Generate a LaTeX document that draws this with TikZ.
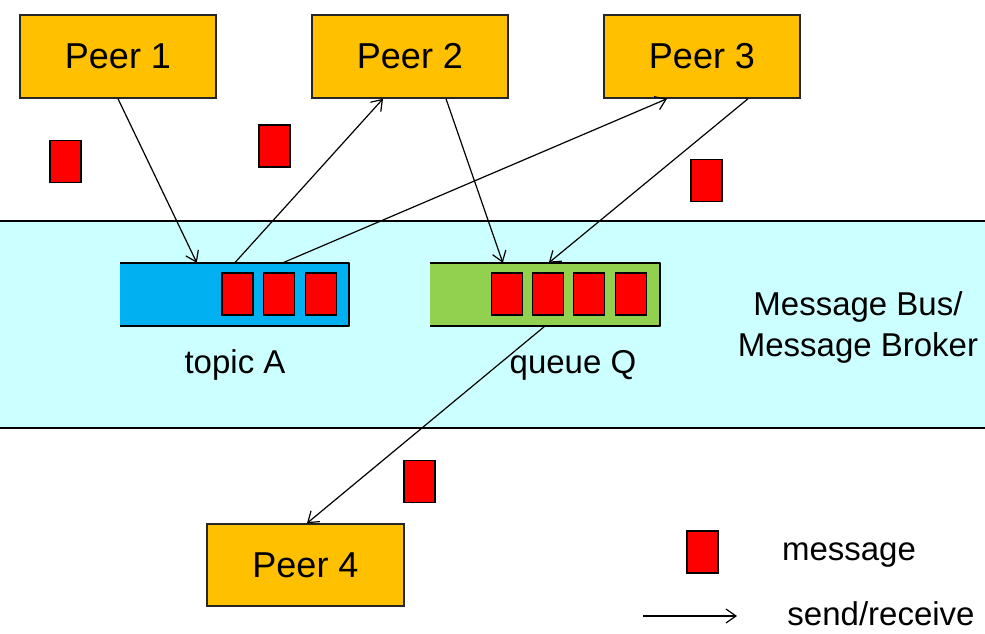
\documentclass[tikz,border=0pt]{standalone}
\usepackage{fontspec}
\setmainfont{Liberation Sans}
\usetikzlibrary{arrows.meta}
\definecolor{peerc}{HTML}{FFC000}
\definecolor{busc}{HTML}{CCFFFF}
\definecolor{topicc}{HTML}{00B0F0}
\definecolor{queuec}{HTML}{92D050}
\definecolor{msgc}{HTML}{FF0000}
\begin{document}
\begin{tikzpicture}[x=1pt,y=-1pt,
  peerbox/.style={draw=black!85, line width=1.5pt, fill=peerc, minimum width=196pt, minimum height=83pt, inner sep=0pt, font=\fontsize{36}{40}\selectfont},
  msg/.style={draw=black, line width=1.5pt, fill=msgc, minimum width=31pt, minimum height=42pt, inner sep=0pt},
  pipe/.style={minimum width=229pt, minimum height=63pt, inner sep=0pt},
  pipeedge/.style={line width=1.5pt, line join=round},
  lbl/.style={font=\fontsize{33}{41}\selectfont, inner sep=0pt},
  arr/.style={line width=1.2pt, -{Straight Barb[length=10pt,width=14pt,line width=1.2pt]}}
]
\useasboundingbox (0,0) rectangle (985,633);
% bus band
\fill[busc] (0,221) rectangle (985,428);
\coordinate (bandtl) at (0,221);
\coordinate (bandtr) at (985,221);
\coordinate (bandbl) at (0,428);
\coordinate (bandbr) at (985,428);
\draw[line width=1.3pt] (bandtl) -- (bandtr);
\draw[line width=1.3pt] (bandbl) -- (bandbr);

% peers
\node[peerbox] (p1) at (118,56.5) {Peer 1};
\node[peerbox] (p2) at (410,56.5) {Peer 2};
\node[peerbox] (p3) at (702,56.5) {Peer 3};
\node[peerbox, minimum width=197pt, minimum height=82pt] (p4) at (305.5,565) {Peer 4};

% topic
\node[pipe, fill=topicc] (topic) at (234.5,294.5) {};
\draw[pipeedge] (topic.north west) -- (topic.north east) -- (topic.south east) -- (topic.south west);
\node[msg] (t1) at (237.5,294) {};
\node[msg] (t2) at (279,294) {};
\node[msg] (t3) at (321,294) {};

% queue
\node[pipe, fill=queuec, minimum width=230pt] (queue) at (545,294.5) {};
\draw[pipeedge] (queue.north west) -- (queue.north east) -- (queue.south east) -- (queue.south west);
\node[msg] (q1) at (507,294) {};
\node[msg] (q2) at (548,294) {};
\node[msg] (q3) at (589,294) {};
\node[msg] (q4) at (631,294) {};

% labels
\node[lbl] (tA) at (235,365) {topic A};
\node[lbl] (qQ) at (573,365) {queue Q};
\node[lbl, align=center] (busl) at (858,327) {Message Bus/\\Message Broker};

% floating messages
\node[msg] (m1) at (65.5,161.5) {};
\node[msg] (m2) at (274.5,146) {};
\node[msg] (m3) at (706.5,180.5) {};
\node[msg] (m4) at (419.5,481.5) {};

% arrows
\draw[arr] (p1.south) -- ([xshift=77pt]topic.north west);
\draw[arr] ([xshift=115pt]topic.north west) -- ([xshift=-27pt]p2.south);
\draw[arr] ([xshift=163pt]topic.north west) -- ([xshift=-35pt]p3.south);
\draw[arr] ([xshift=36pt]p2.south) -- ([xshift=73pt]queue.north west);
\draw[arr] ([xshift=46pt]p3.south) -- ([xshift=119pt]queue.north west);
\draw[arr] ([xshift=115pt]queue.south west) -- ([xshift=1.5pt]p4.north);

% legend
\node[msg] (lm) at (702.5,552) {};
\node[lbl] (lmt) at (849,555) {message};
\coordinate (la1) at (643,616);
\coordinate (la2) at (737,616);
\draw[arr] (la1) -- (la2);
\node[lbl] (lat) at (881,614) {send/receive};
\end{tikzpicture}
\end{document}
